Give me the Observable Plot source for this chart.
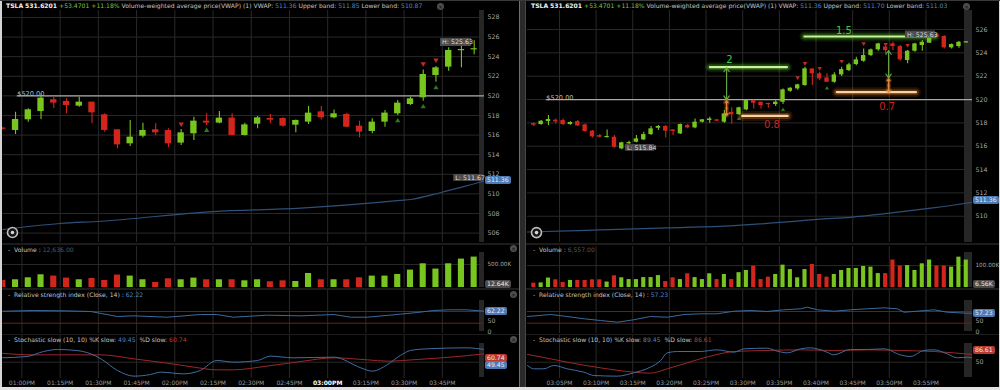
<!DOCTYPE html>
<html><head><meta charset="utf-8">
<script src="https://cdn.jsdelivr.net/npm/d3@7"></script>
<script src="https://cdn.jsdelivr.net/npm/@observablehq/plot@0.6"></script>
<style>
html,body{margin:0;padding:0;background:#000;}
#root{position:relative;width:1000px;height:390px;background:#000;overflow:hidden;font-family:"DejaVu Sans",Verdana,sans-serif;}
.hdr{position:absolute;font-size:6.1px;line-height:8px;color:#c4c4c4;white-space:nowrap;}
.hdr b{color:#f2f2f2;font-weight:bold;}
.g{color:#7cc446}.bl{color:#4f86c6}.dim{color:#585858}.rd{color:#c23a30}
.badge{position:absolute;height:8px;line-height:8px;font-size:6.2px;padding:0 2px;border-radius:2px;color:#e8eef5;white-space:nowrap;}
.strip{position:absolute;background:#262626;}
.sep{position:absolute;background:#1c1c1c;}
.xbtn{position:absolute;width:7px;height:7px;border-radius:50%;background:#4e4e4e;color:#111;font-size:6px;line-height:7px;text-align:center;}
</style></head>
<body><div id="root"></div>
<script>
// ======================= DATA =======================
// ---- left panel: 5-minute candles ----
const leftOpen  = [516.70,516.47,517.56,518.40,519.60,519.43,518.95,519.36,518.07,516.54,515.11,515.89,516.54,516.47,515.18,516.13,517.42,517.22,517.73,515.96,517.11,517.69,517.69,517.01,517.32,518.37,517.76,518.10,516.91,516.37,517.32,518.17,519.12,519.80,522.08,522.93,524.63,524.70];
const leftHigh  = [516.80,518.34,518.68,520.20,519.94,519.70,519.87,519.36,518.17,516.54,517.49,517.20,517.15,516.64,516.57,517.83,518.17,518.40,518.17,517.21,517.90,518.10,517.76,517.55,518.91,518.91,518.57,518.23,517.42,517.66,518.50,519.53,519.87,522.65,523.00,524.90,525.50,525.63];
const leftLow   = [516.50,516.06,517.32,517.60,518.70,518.17,518.85,517.15,516.30,514.60,514.84,515.72,515.96,514.70,514.94,515.45,516.98,517.15,515.96,515.90,516.64,517.15,516.80,516.23,517.08,517.55,517.66,516.74,515.72,516.13,516.81,518.00,519.02,519.46,521.40,522.52,522.86,524.20];
const leftClose = [516.60,517.59,518.58,519.77,519.26,519.02,519.36,518.27,516.47,515.00,515.79,516.47,516.23,515.11,516.23,517.42,517.22,517.73,515.96,517.04,517.76,517.52,516.91,517.49,518.24,517.76,518.17,516.80,516.30,517.32,518.24,519.26,519.70,522.18,522.86,524.63,524.70,524.80];
const leftVolume = [157,172,215,279,251,208,172,200,157,273,251,172,114,193,172,208,172,172,172,150,172,129,150,135,307,172,172,172,215,251,251,286,380,515,401,515,616,659]; // thousands
const leftVwapIdx = [-0.2,4.5,7.7,16.5,23.4,31.2,32,34.4,37.8];
const leftVwapVal = [506.34,506.98,507.21,508.2,508.54,509.33,509.43,510.14,511.3];
const leftRsiIdx = [0,2.4,5.0,6.9,9.0,10.3,12.9,15.5,16.8,18.1,20.7,23.4,26,27.3,28.6,31.2,32.5,33.8,35.1,36.4,37.8];
const leftRsiVal = [71.1,73.5,72.3,70.1,53,55.3,50.6,59.8,59.8,50.6,57.5,55.3,59.8,50.6,50.6,60.9,66.6,73.5,75.9,75.9,71.1];
const leftKIdx = [-0.2,1.9,3.2,4.3,5.8,6.9,7.7,9,10.3,11.6,12.4,14.2,15.5,16.8,18.1,20,21,22.8,26,28.1,29,30.2,31.2,32,33.3,36.4,37.8];
const leftKVal = [63.6,67.8,83.4,89.7,86.6,76.1,60.5,24.1,6.4,11.6,18.9,13.6,24.1,55.3,50.1,55.3,68.9,63.6,65.7,32.4,22,42.8,70.9,86.6,91.8,94.9,89.7];
const leftDIdx = [-0.2,2.4,7.7,10.3,12.9,15,16.8,18.1,20.7,23.4,26,28.6,30.2,32.5,35.1,37.8];
const leftDVal = [78.2,73,73,60.5,47,34.5,26.1,26.1,37.6,52.2,63.6,57.4,53.2,58.4,65.7,76.1];
const leftSellIdx = [14,33,34], leftSellPx = [517.08,523.23,523.61];
const leftBuyIdx = [16,31,33,34], leftBuyPx = [516.5,517.49,518.92,520.86];
const leftPriceTicks = [506,508,510,512,514,516,518,520,522,524,526,528];
const leftTimeLabels = ["01:00PM","01:15PM","01:30PM","01:45PM","02:00PM","02:15PM","02:30PM","02:45PM","03:00PM","03:15PM","03:30PM","03:45PM"];

// ---- right panel: 1-minute candles ----
const rightOpen  = [517.94,517.86,518.11,518.23,518.20,517.86,518.11,517.83,517.29,516.91,516.77,516.77,515.77,516.20,516.34,516.54,517.00,517.54,517.69,517.40,517.06,517.77,517.57,518.06,518.20,518.26,518.06,518.90,518.71,519.11,519.91,519.77,519.63,519.57,519.77,520.71,520.91,521.20,522.62,522.20,521.85,521.48,522.11,522.48,523.00,523.28,523.77,524.26,524.50,524.77,524.54,523.34,524.14,524.63,524.83,525.57,525.40,524.43,524.54,524.88];
const rightHigh  = [518.00,518.20,518.63,518.34,518.34,518.10,518.20,517.90,517.34,517.00,517.40,516.91,516.34,516.43,516.91,517.20,517.69,517.77,517.77,517.40,517.91,517.86,518.34,518.30,518.49,518.30,519.06,519.30,519.34,519.97,519.97,519.77,519.68,519.90,520.91,521.00,521.30,522.77,522.62,522.34,522.20,522.30,522.77,523.10,523.62,524.34,524.34,524.83,524.55,524.91,524.63,524.20,524.83,525.06,525.50,525.63,525.48,524.77,524.97,524.95];
const rightLow   = [517.70,517.80,517.77,517.91,517.77,517.80,517.69,517.20,516.71,516.70,516.71,515.83,515.70,516.17,516.29,516.49,516.91,517.34,516.71,516.91,517.00,517.49,517.49,518.00,517.97,518.10,517.97,517.90,518.63,519.05,519.20,519.20,519.28,519.40,519.57,520.62,520.80,521.14,521.20,521.60,521.48,521.40,521.97,522.40,522.90,523.20,523.68,524.14,523.90,524.20,523.30,523.06,524.05,524.14,524.80,525.30,524.34,524.34,524.40,524.85];
const rightClose = [517.80,518.14,518.29,518.09,517.86,518.03,517.74,517.26,516.80,516.77,516.80,515.91,516.29,516.31,516.63,517.00,517.49,517.69,517.29,517.26,517.86,517.57,518.06,518.26,518.34,518.14,518.77,518.70,519.29,519.91,519.68,519.48,519.60,519.77,520.83,520.97,521.26,522.63,522.20,521.77,521.48,522.11,522.57,522.97,523.40,523.77,524.26,524.77,524.20,524.54,523.40,524.14,524.77,524.91,525.40,525.34,524.43,524.71,524.91,524.92];
const rightVolume = [21,22,44,36,24,33,33,33,36,36,26,54,45,37,37,46,46,55,28,45,37,63,46,37,63,37,60,37,68,78,98,37,48,60,102,82,45,82,105,60,48,60,78,87,87,96,93,64,64,125,98,100,78,108,125,98,98,93,138,125]; // thousands
const rightVwapIdx = [-0.86,9.1,18.2,27.3,34.1,38.7,43.2,47.7,52.3,56.9,59.85];
const rightVwapVal = [508.65,508.83,509.0,509.2,509.49,509.74,509.91,510.2,510.55,510.92,511.2];
const rightRsiIdx = [-0.86,2.3,4.55,6.9,9.1,11.4,13.6,15.9,18.2,20.5,22.7,25,27.3,29.6,31.8,34.1,36.4,37.3,38.7,41,43.2,45.5,47.8,49.6,50.5,52.3,54.6,56.4,59.1,59.85];
const rightRsiVal = [53,59.8,53,45.1,39.3,33.5,41.7,53,50.6,59.8,62.2,62.2,71.1,73.5,70.1,75.9,79.3,84.8,75.9,71.1,75.9,79.3,82.7,79.3,67.7,71.1,75.9,67.7,64.3,64.3];
const rightKIdx = [-0.86,0,1.36,2.73,4.55,6.83,8.2,11.4,13.6,15.9,17.3,18.2,19.6,22.7,25,27.3,28.7,31.8,33.2,34.6,36.4,37.7,40,40.9,43.2,45.5,47.8,50,51.4,53.2,54.6,56.4,57.8,59.1,59.85];
const rightKVal = [39.7,29.3,29.3,39.7,29.3,18.9,8.4,6.4,16.8,34.5,55.3,79.3,83.4,83.4,88.6,81.3,91.8,93.8,84.5,79.3,91.8,94.9,81.3,73,89.7,89.7,91.8,73,67.8,86.6,88.6,76.1,63.6,65.7,63.6];
const rightDIdx = [-0.86,2.3,4.55,9.1,13.6,15.9,18.2,20.5,22.7,25,27.3,31.8,36.4,40.9,45.5,50,54.6,59.85];
const rightDVal = [74.1,60.5,50.1,32.4,18.9,15.7,29.3,44.9,60.5,74.1,83.4,86.6,88.6,86.6,88.6,86.6,83.4,74.1];
const rightSellIdx = [36,37,39,42,45,48,51], rightSellPx = [521.86,523.08,522.66,523.26,524.77,524.72,524.63];
const rightBuyIdx = [28,34,40], rightBuyPx = [518.37,519.14,520.99];
const rightPriceTicks = [510,512,514,516,518,520,522,524,526];
const rightTimeLabels = ["03:05PM","03:10PM","03:15PM","03:20PM","03:25PM","03:30PM","03:35PM","03:40PM","03:45PM","03:50PM","03:55PM"];

// ---- drawn annotations on the right panel (candle index / price) ----
const targetBars = [{x1:24.1,x2:34.6,y:522.77,t:"2",tx:26.7,ty:523.4},{x1:36.99,x2:54.8,y:525.4,t:"1.5",tx:42.3,ty:525.93}];
const stopBars = [{x1:28.5,x2:34.7,y:518.6,t:"0.8",tx:32.5,ty:517.83},{x1:41.4,x2:52.2,y:520.63,t:"0.7",tx:48.2,ty:519.42}];
const rangeArrows = [{x:26.3,g1:522.72,g2:519.97,o1:519.9,o2:518.62},{x:48.4,g1:524.2,g2:521.86,o1:521.77,o2:520.65}];

// headers
const headerLeft  = ["TSLA","531.6201","+53.4701","+11.18%","511.36","511.85","510.87"];
const headerRight = ["TSLA","531.6201","+53.4701","+11.18%","511.36","511.70","511.03"];

// ======================= DRAWING =======================
const FONT = '"DejaVu Sans", Verdana, sans-serif';
const UP = "#79c520", DOWN = "#d2261d", GRID = "#292929";
const root = document.getElementById("root");
function div(cls, style, html){const d=document.createElement("div");if(cls)d.className=cls;Object.assign(d.style,style);if(html!=null)d.innerHTML=html;root.appendChild(d);return d;}
const px = v => v + "px";

const triDown = {draw(ctx,size){const r=Math.sqrt(size/Math.PI);ctx.moveTo(-r,-r*0.7);ctx.lineTo(r,-r*0.7);ctx.lineTo(0,r*0.95);ctx.closePath();}};
const triUp   = {draw(ctx,size){const r=Math.sqrt(size/Math.PI);ctx.moveTo(-r,r*0.7);ctx.lineTo(r,r*0.7);ctx.lineTo(0,-r*0.95);ctx.closePath();}};

const ROWS = {price:{top:10,h:232}, vol:{top:246,h:41.3}, rsi:{top:290,h:43}, sto:{top:335,h:43}};

function pane(o){
  const svg = Plot.plot({
    width:o.width, height:o.h + (o.mB||0),
    marginLeft:o.mL, marginRight:o.mR, marginTop:0, marginBottom:o.mB||0,
    x:{domain:o.xDomain, axis:null},
    y:{domain:o.yDomain, axis:(o.yTicks&&o.yTicks.length)?"right":null, ticks:o.yTicks, tickFormat:o.yFmt||(d=>String(d)), tickSize:0, tickPadding:3, label:null},
    color:{type:"identity"},
    style:{background:"transparent", color:"#a4a4a4", fontSize:(o.fs||6.3)+"px", fontFamily:FONT},
    marks:o.marks
  });
  svg.style.position="absolute"; svg.style.left=px(o.left); svg.style.top=px(o.top);
  root.appendChild(svg);
  svg._top = o.top; svg._dom = o.yDomain; svg._h = o.h;
  return svg;
}
function yAt(svg, v){
  const s = svg.scale && svg.scale("y");
  if (s && s.apply) return svg._top + s.apply(v);
  return svg._top + d3.scaleLinear(svg._dom,[svg._h,0])(v);
}
function badge(x, yc, text, bg){ div("badge",{left:px(x),top:px(yc-4),background:bg},text); }
const pts = (xs, ys) => xs.map((x,k)=>({x, y:ys[k]}));

function buildPanel(P){
  const S = P.side;
  const candles = P.open.map((o,i)=>({i,o,h:P.high[i],l:P.low[i],c:P.close[i],v:P.vol[i],col:P.close[i]>=o?UP:DOWN}));
  const lo = d => Math.abs(d.c-d.o)<P.minBody ? (d.o+d.c)/2-P.minBody/2 : Math.min(d.o,d.c);
  const hi = d => Math.abs(d.c-d.o)<P.minBody ? (d.o+d.c)/2+P.minBody/2 : Math.max(d.o,d.c);
  const ticks = P.timeLabels.map((t,k)=>({x:P.tick0 + P.tickStep*k, t}));
  const vgrid = () => Plot.ruleX(ticks,{x:"x", stroke:GRID, strokeWidth:1});
  [[ROWS.price.top, ROWS.price.h],[252,35],[300,31],[343,34]].forEach(([t,h])=>div("strip",{left:px(S.stripX),top:px(t),width:px(S.stripW),height:px(h)}));
  const C = {left:S.x, width:S.w, mL:S.mL, mR:S.mR, xDomain:S.xDomain};
  const tags = P.tags;
  const priceMarks = [
    vgrid(),
    Plot.ruleY(P.priceTicks,{stroke:GRID}),
    Plot.line(pts(P.vwapX,P.vwapY),{x:"x",y:"y",stroke:"#2d5079",strokeWidth:1.2,curve:"monotone-x",clip:true}),
    Plot.ruleY([{y:520,x1:P.line520From,x2:S.xDomain[1]}],{y:"y",x1:"x1",x2:"x2",stroke:"#a8a8a8",strokeWidth:1.2}),
    Plot.text([{x:P.line520From,y:520,t:"$520.00"}],{x:"x",y:"y",text:"t",textAnchor:"start",lineAnchor:"bottom",fill:"#b4b4b4",fontSize:6.6,dy:0.5}),
    ...(P.extraUnder||[]),
    Plot.ruleX(candles,{x:"i",y1:"l",y2:"h",stroke:"col",strokeWidth:1.1,clip:true}),
    Plot.rect(candles,{x1:d=>d.i-P.bodyHalf,x2:d=>d.i+P.bodyHalf,y1:lo,y2:hi,fill:"col",clip:true}),
    Plot.dot(pts(P.sellX,P.sellY),{x:"x",y:"y",symbol:triDown,r:P.triR,fill:"#c9271f"}),
    Plot.dot(pts(P.buyX,P.buyY),{x:"x",y:"y",symbol:triUp,r:P.triR,fill:"#2f7420"}),
    ...(P.extraOver||[]),
    Plot.rect(tags,{x1:"x1",x2:"x2",y1:"y1",y2:"y2",fill:"#4c4c4c"}),
    Plot.text(tags,{x:"x1",y:d=>(d.y1+d.y2)/2,text:"t",textAnchor:"start",dx:1.5,fill:"#dedede",fontSize:6.3}),
    Plot.dot([P.pin],{x:"x",y:"y",r:5,fill:"#151515",stroke:"#bdbdbd",strokeWidth:1.6}),
    Plot.dot([P.pin],{x:"x",y:"y",r:1.8,fill:"#d6d6d6"})
  ];
  const pr = pane({...C, top:ROWS.price.top, h:ROWS.price.h, yDomain:P.priceDomain, yTicks:P.priceTicks, marks:priceMarks});
  const vo = pane({...C, top:ROWS.vol.top, h:ROWS.vol.h, fs:5.7, yDomain:P.volDomain, yTicks:[P.volTick], yFmt:()=>P.volTickLabel, marks:[
    vgrid(), Plot.ruleY([P.volTick],{stroke:GRID}),
    Plot.rect(candles,{x1:d=>d.i-P.volHalf,x2:d=>d.i+P.volHalf,y1:0,y2:"v",fill:"col",clip:true})
  ]});
  const rsiTickText = (vals, dy) => Plot.text(vals,{y:d=>d,text:d=>String(d),frameAnchor:"right",textAnchor:"start",dx:3,dy,fill:"#a4a4a4",fontSize:6.2});
  const rs = pane({...C, top:ROWS.rsi.top, h:ROWS.rsi.h, mB:4, yDomain:[-5.1,141.9], yTicks:[], marks:[
    vgrid(), Plot.ruleY([30,70],{stroke:"#7e1818",strokeWidth:1}),
    Plot.line(pts(P.rsiX,P.rsiY),{x:"x",y:"y",stroke:"#3b6a9c",strokeWidth:1,clip:true}),
    rsiTickText([0], 0), rsiTickText([50], 3.2)
  ]});
  const st = pane({...C, top:ROWS.sto.top, h:ROWS.sto.h, mB:9, yDomain:[-0.94,133.4], yTicks:P.stoTicks, marks:[
    vgrid(), Plot.ruleY([50],{stroke:GRID}),
    Plot.line(pts(P.dX,P.dY),{x:"x",y:"y",stroke:"#9c2828",strokeWidth:1,curve:"monotone-x",clip:true}),
    Plot.line(pts(P.kX,P.kY),{x:"x",y:"y",stroke:"#3e6ea3",strokeWidth:1,curve:"monotone-x",clip:true}),
    Plot.text(ticks.filter(d=>d.t!==P.boldLabel),{x:"x",text:"t",frameAnchor:"bottom",lineAnchor:"top",dy:2,fill:"#9a9a9a",fontSize:6}),
    Plot.text(ticks.filter(d=>d.t===P.boldLabel),{x:"x",text:"t",frameAnchor:"bottom",lineAnchor:"top",dy:2,fill:"#ffffff",fontSize:6,fontWeight:"bold"})
  ]});
  // headers
  const H = P.header;
  div("hdr",{left:px(S.x+S.hdrX),top:"2px"},`<b>${H[0]}</b> <b>${H[1]}</b> <span class="g">${H[2]}</span> <span class="g">${H[3]}</span> Volume-weighted average price(VWAP) (1) VWAP: <span class="bl">${H[4]}</span> Upper band: <span class="bl">${H[5]}</span> Lower band: <span class="bl">${H[6]}</span>`);
  div("hdr",{left:px(S.x+S.hdrX+2),top:"246px"},`-&nbsp; Volume : <span class="dim">${P.volHdr}</span>`);
  div("hdr",{left:px(S.x+S.hdrX+2),top:"290.5px"},`-&nbsp; Relative strength index (Close, 14) : <span class="bl">${P.rsiHdr}</span>`);
  div("hdr",{left:px(S.x+S.hdrX+2),top:"335.5px"},`-&nbsp; Stochastic slow (10, 10) %K slow: <span class="bl">${P.kHdr}</span>&nbsp; %D slow: <span class="rd">${P.dHdr}</span>`);
  // axis value badges
  badge(S.badgeX, yAt(pr, P.lastVwap), P.lastVwap.toFixed(2), "#4a7bb5");
  badge(S.badgeX, Math.min(yAt(vo, P.lastVol), ROWS.vol.top+ROWS.vol.h-3.5), P.lastVolLabel, "#4a4a4a");
  badge(S.badgeX, yAt(rs, P.rsiHdr)-2, P.rsiHdr.toFixed(2), "#4a7bb5");
  badge(S.badgeX, yAt(st, P.dHdr), P.dHdr.toFixed(2), "#b93a33");
  if (P.showK) badge(S.badgeX, Math.max(yAt(st, P.kHdr), yAt(st, P.dHdr)+7), P.kHdr.toFixed(2), "#4a7bb5");
}

// frame decorations
div("sep",{left:"0px",top:"243px",width:"1000px",height:"2px"});
div("sep",{left:"0px",top:"288px",width:"1000px",height:"2px"});
div("sep",{left:"0px",top:"333.5px",width:"1000px",height:"1.5px"});

buildPanel({
  side:{x:0,w:520,mL:2.3,mR:36,xDomain:[0,37.81],stripX:479,stripW:5,badgeX:485,hdrX:6},
  open:leftOpen,high:leftHigh,low:leftLow,close:leftClose,vol:leftVolume,
  priceDomain:[505.04,528.71], priceTicks:leftPriceTicks,
  volDomain:[0,886], volTick:500, volTickLabel:"500.00K", lastVol:12.64, lastVolLabel:"12.64K",
  vwapX:leftVwapIdx, vwapY:leftVwapVal, lastVwap:511.36,
  rsiX:leftRsiIdx, rsiY:leftRsiVal, kX:leftKIdx, kY:leftKVal, dX:leftDIdx, dY:leftDVal, stoTicks:[],
  sellX:leftSellIdx, sellY:leftSellPx, buyX:leftBuyIdx, buyY:leftBuyPx, triR:2.7,
  timeLabels:leftTimeLabels, tick0:1.5, tickStep:3, boldLabel:"03:00PM",
  bodyHalf:0.25, volHalf:0.24, minBody:0.12, line520From:1.13,
  tags:[{t:"H: 525.63",x1:34.36,x2:36.8,y1:525.04,y2:525.86},{t:"L: 511.67",x1:35.4,x2:37.73,y1:511.27,y2:511.98}],
  pin:{x:0.76,y:506.06},
  header:headerLeft, volHdr:"12,636.00", rsiHdr:62.22, kHdr:49.45, dHdr:60.74, showK:true
});

const glowRule = (data, core, halo) => [
  Plot.ruleY(data,{y:"y",x1:"x1",x2:"x2",stroke:halo,strokeWidth:10,strokeOpacity:0.14,strokeLinecap:"round"}),
  Plot.ruleY(data,{y:"y",x1:"x1",x2:"x2",stroke:halo,strokeWidth:6,strokeOpacity:0.3,strokeLinecap:"round"}),
  Plot.ruleY(data,{y:"y",x1:"x1",x2:"x2",stroke:core,strokeWidth:2.2,strokeLinecap:"round"})
];
const mid = (a,b) => d => (d[a]+d[b])/2;
const arrowSet = (k1,k2,color,glow) => [
  ...(glow ? [Plot.arrow(rangeArrows,{x1:"x",x2:"x",y1:mid(k1,k2),y2:k1,stroke:glow,strokeWidth:4,strokeOpacity:0.35,headLength:6,headAngle:70}),
              Plot.arrow(rangeArrows,{x1:"x",x2:"x",y1:mid(k1,k2),y2:k2,stroke:glow,strokeWidth:4,strokeOpacity:0.35,headLength:6,headAngle:70})] : []),
  Plot.arrow(rangeArrows,{x1:"x",x2:"x",y1:mid(k1,k2),y2:k1,stroke:color,strokeWidth:1.2,headLength:6,headAngle:70}),
  Plot.arrow(rangeArrows,{x1:"x",x2:"x",y1:mid(k1,k2),y2:k2,stroke:color,strokeWidth:1.2,headLength:6,headAngle:70})
];

buildPanel({
  side:{x:527,w:473,mL:0,mR:28,xDomain:[-0.86,59.85],stripX:964,stripW:8,badgeX:973,hdrX:4},
  open:rightOpen,high:rightHigh,low:rightLow,close:rightClose,vol:rightVolume,
  priceDomain:[507.75,527.63], priceTicks:rightPriceTicks,
  volDomain:[0,186], volTick:100, volTickLabel:"100.00K", lastVol:6.56, lastVolLabel:"6.56K",
  vwapX:rightVwapIdx, vwapY:rightVwapVal, lastVwap:511.36,
  rsiX:rightRsiIdx, rsiY:rightRsiVal, kX:rightKIdx, kY:rightKVal, dX:rightDIdx, dY:rightDVal, stoTicks:[50],
  sellX:rightSellIdx, sellY:rightSellPx, buyX:rightBuyIdx, buyY:rightBuyPx, triR:2.2,
  timeLabels:rightTimeLabels, tick0:3.5, tickStep:5, boldLabel:null,
  bodyHalf:0.3, volHalf:0.28, minBody:0.1, line520From:1.7,
  extraUnder:[...glowRule(targetBars,"#c4f59c","#5cb82c"), ...glowRule(stopBars,"#f8d3a6","#e07a22")],
  extraOver:[
    ...arrowSet("g1","g2","#64a443",null),
    ...arrowSet("o1","o2","#e0893c","#e07a22"),
    Plot.text(targetBars,{x:"tx",y:"ty",text:"t",fill:"#3ccf3c",fontSize:10}),
    Plot.text(stopBars,{x:"tx",y:"ty",text:"t",fill:"#d42020",fontSize:10})
  ],
  tags:[{t:"H: 525.63",x1:50.7,x2:54.8,y1:525.27,y2:525.87},{t:"L: 515.84",x1:12.5,x2:16.5,y1:515.57,y2:516.14}],
  pin:{x:0.37,y:508.6},
  header:headerRight, volHdr:"6,557.00", rsiHdr:57.23, kHdr:89.45, dHdr:86.61, showK:false
});

// close buttons
[[437,2.5],[963,2.5],[510,245],[510,290.5],[510,335.5]].forEach(([x,y])=>div("xbtn",{left:px(x),top:px(y)},"×"));
// panel divider and outer border
div("",{position:"absolute",left:"519px",top:"0px",width:"5px",height:"390px",background:"#2a2a2a",borderLeft:"1px solid #6e6e6e",borderRight:"1px solid #474747"});
div("",{position:"absolute",left:"0px",top:"0px",width:"1.5px",height:"390px",background:"#d4d4d4"});
div("",{position:"absolute",right:"0px",top:"0px",width:"1.5px",height:"390px",background:"#d4d4d4"});
div("",{position:"absolute",left:"0px",top:"387px",width:"1000px",height:"3px",background:"#e2e2e2"});
div("",{position:"absolute",left:"0px",top:"0px",width:"1000px",height:"1px",background:"#3a3a3a"});
</script></body></html>
